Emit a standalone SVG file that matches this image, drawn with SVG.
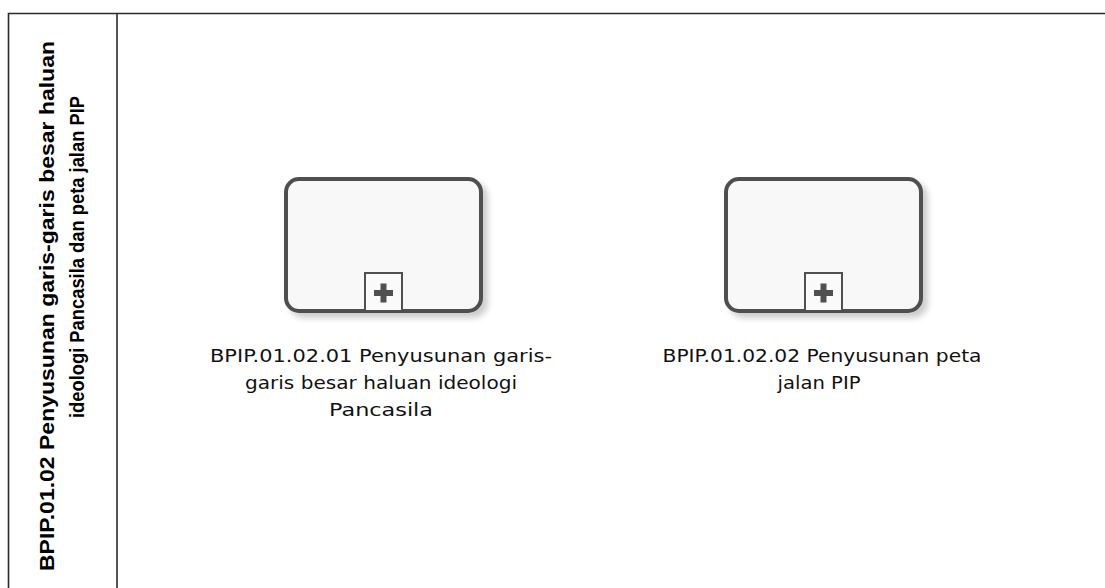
<svg xmlns="http://www.w3.org/2000/svg" width="1105" height="588" viewBox="0 0 1105 588">
  <defs>
    <filter id="shadow" x="-10%" y="-10%" width="130%" height="130%">
      <feGaussianBlur in="SourceAlpha" stdDeviation="3"/>
      <feOffset dx="5" dy="5" result="blur"/>
      <feComponentTransfer><feFuncA type="linear" slope="0.2"/></feComponentTransfer>
      <feMerge><feMergeNode/><feMergeNode in="SourceGraphic"/></feMerge>
    </filter>
  </defs>
  <style>
    .lane { fill: none; stroke: #2b2b2b; stroke-width: 1.6; }
    .lane-title { font-family: "Liberation Sans", Arial, sans-serif; font-weight: bold; font-size: 21px; fill: #000; text-anchor: middle; }
    .task { fill: #f8f8f8; stroke: #505050; stroke-width: 4; }
    .marker { fill: #fafafa; stroke: #505050; stroke-width: 2; }
    .plus { fill: #505050; }
    .label { font-family: "DejaVu Sans", Verdana, sans-serif; font-size: 18px; fill: #111; text-anchor: middle; }
  </style>

  <rect width="1105" height="588" fill="#ffffff"/>

  <!-- pool / lane frame -->
  <g id="lane">
    <path class="lane" d="M8.5,588 V13.5 H1105"/>
    <path class="lane" d="M117,13.5 V588"/>
    <text class="lane-title" transform="translate(54,306) rotate(-90)" textLength="530" lengthAdjust="spacingAndGlyphs">BPIP.01.02 Penyusunan garis-garis besar haluan</text>
    <text class="lane-title" transform="translate(84,257) rotate(-90)" textLength="322" lengthAdjust="spacingAndGlyphs">ideologi Pancasila dan peta jalan PIP</text>
  </g>

  <!-- collapsed sub-process 1 -->
  <g id="task1">
    <rect class="task" x="286" y="179" width="195" height="132" rx="13" filter="url(#shadow)"/>
    <rect class="marker" x="365" y="273" width="37" height="38"/>
    <path class="plus" d="M380.5,283.5 h6 v6.5 h6.5 v6 h-6.5 v6.5 h-6 v-6.5 h-6.5 v-6 h6.5 z"/>
    <text class="label" x="381" y="362" textLength="342" lengthAdjust="spacingAndGlyphs">BPIP.01.02.01 Penyusunan garis-</text>
    <text class="label" x="381" y="389" textLength="272" lengthAdjust="spacingAndGlyphs">garis besar haluan ideologi</text>
    <text class="label" x="381" y="416" textLength="104" lengthAdjust="spacingAndGlyphs">Pancasila</text>
  </g>

  <!-- collapsed sub-process 2 -->
  <g id="task2">
    <rect class="task" x="726" y="179" width="195" height="132" rx="13" filter="url(#shadow)"/>
    <rect class="marker" x="805" y="273" width="37" height="38"/>
    <path class="plus" d="M820.5,283.5 h6 v6.5 h6.5 v6 h-6.5 v6.5 h-6 v-6.5 h-6.5 v-6 h6.5 z"/>
    <text class="label" x="822" y="362" textLength="319" lengthAdjust="spacingAndGlyphs">BPIP.01.02.02 Penyusunan peta</text>
    <text class="label" x="819" y="389" textLength="83" lengthAdjust="spacingAndGlyphs">jalan PIP</text>
  </g>

  <g id="connectors"/>
</svg>
